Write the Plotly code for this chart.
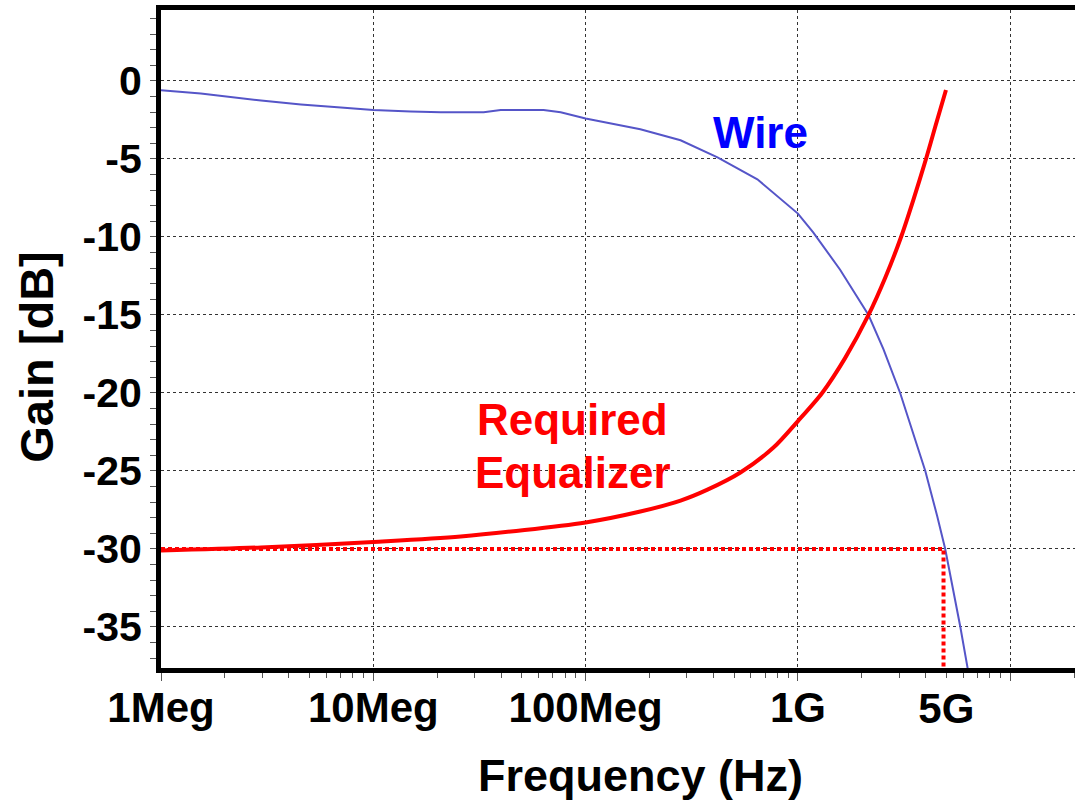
import plotly.graph_objects as go

# ---- data ----
wire_freq = [1.0e6, 1.54e6, 2.96e6, 4.56e6, 7.03e6, 1.0e7, 1.5e7, 2.08e7, 3.31e7, 3.98e7,
             6.34e7, 7.63e7, 1.0e8, 1.81e8, 2.80e8, 4.18e8, 6.44e8, 1.0e9, 1.18e9, 1.58e9,
             2.15e9, 2.53e9, 3.03e9, 3.50e9, 3.98e9, 4.53e9, 4.94e9, 5.82e9, 6.31e9]
wire_gain = [-0.6, -0.8, -1.25, -1.5, -1.7, -1.86, -1.96, -2.0, -2.0, -1.86,
             -1.86, -2.0, -2.4, -3.1, -3.8, -4.9, -6.3, -8.5, -9.7, -12.1,
             -15.0, -17.2, -20.0, -22.6, -25.0, -27.9, -30.0, -35.0, -37.7]

eq_freq = [1.0e6, 2.96e6, 1.0e7, 2.58e7, 1.0e8, 1.81e8, 2.80e8, 3.75e8, 5.36e8, 7.67e8,
           1.0e9, 1.30e9, 1.67e9, 2.15e9, 2.58e9, 3.06e9, 3.50e9, 4.01e9, 4.44e9, 4.98e9]
eq_gain = [-30.1, -29.9, -29.55, -29.2, -28.3, -27.6, -26.9, -26.2, -25.1, -23.5,
           -21.8, -20.0, -17.75, -15.0, -12.6, -10.0, -7.6, -5.0, -2.9, -0.58]

marker_freq = [1.0e6, 4.85e9, 4.85e9]
marker_gain = [-30.0, -30.0, -37.7]

x_tick_vals = [1e6, 1e7, 1e8, 1e9, 1e10]
x_tick_text = ["1Meg", "10Meg", "100Meg", "1G", ""]
x_extra_vals = [5e9]
x_extra_text = ["5G"]
y_tick_vals = [0, -5, -10, -15, -20, -25, -30, -35]
y_tick_text = ["0", "-5", "-10", "-15", "-20", "-25", "-30", "-35"]

FONT = "Liberation Sans, Arial, sans-serif"
GRID = "#333333"

minor_x = [d * 10 ** e for e in range(6, 11) for d in range(2, 10)]

fig = go.Figure()
fig.add_trace(go.Scatter(x=wire_freq, y=wire_gain, mode="lines",
                         line=dict(color="#5555c8", width=2), hoverinfo="skip"))
fig.add_trace(go.Scatter(x=eq_freq, y=eq_gain, mode="lines",
                         line=dict(color="#ff0000", width=4, shape="spline", smoothing=0.8),
                         hoverinfo="skip"))
fig.add_trace(go.Scatter(x=marker_freq, y=marker_gain, mode="lines", xaxis="x2",
                         line=dict(color="#ff0000", width=4, dash="4px,3px"), hoverinfo="skip"))

xr = [6, 10.305]
tickfont = dict(family=FONT, size=42, color="black", weight="bold")
fig.update_layout(
    width=1075, height=807,
    margin=dict(l=161, r=0, t=10, b=139),
    paper_bgcolor="white", plot_bgcolor="white",
    showlegend=False,
    xaxis=dict(type="log", range=xr, tickvals=x_tick_vals, ticktext=x_tick_text,
               showgrid=True, gridcolor=GRID, griddash="3px,3px", gridwidth=1,
               showline=True, linewidth=5, linecolor="black", mirror=True,
               ticks="outside", ticklen=8, tickwidth=1, tickcolor="#555",
               minor=dict(tickvals=minor_x, ticks="outside", ticklen=5, tickwidth=1,
                          tickcolor="#555", showgrid=False),
               tickfont=tickfont, ticklabelstandoff=-9,
               zeroline=False),
    xaxis2=dict(type="log", range=xr, overlaying="x", anchor="y", side="bottom",
                tickvals=x_extra_vals, ticktext=x_extra_text,
                ticks="outside", ticklen=8, tickcolor="rgba(0,0,0,0)",
                showgrid=False, showline=False, zeroline=False,
                tickfont=tickfont, ticklabelstandoff=-4),
    yaxis=dict(range=[-37.63, 4.55], tickvals=y_tick_vals, ticktext=y_tick_text,
               showgrid=True, gridcolor=GRID, griddash="3px,3px", gridwidth=1,
               showline=True, linewidth=5, linecolor="black",
               ticks="outside", ticklen=6, tickwidth=1, tickcolor="#555",
               minor=dict(dtick=1, ticks="outside", ticklen=6, tickwidth=1,
                          tickcolor="#555", showgrid=False),
               tickfont=dict(family=FONT, size=41, color="black", weight="bold"),
               zeroline=False),
    annotations=[
        dict(text="Frequency (Hz)", xref="paper", yref="paper", x=0.525, y=-0.1641,
             xanchor="center", yanchor="middle", showarrow=False,
             font=dict(family=FONT, size=45, color="black", weight="bold")),
        dict(text="Gain [dB]", xref="paper", yref="paper", x=-0.1371, y=0.4726,
             xanchor="center", yanchor="middle", showarrow=False, textangle=-90,
             font=dict(family=FONT, size=47, color="black", weight="bold")),
        dict(text="Wire", x=8.824, y=-3.33, xref="x", yref="y",
             xanchor="center", yanchor="middle", showarrow=False,
             font=dict(family=FONT, size=44, color="#0000ff", weight="bold")),
        dict(text="Required", x=7.939, y=-21.7, xref="x", yref="y",
             xanchor="center", yanchor="middle", showarrow=False,
             font=dict(family=FONT, size=44, color="#ff0000", weight="bold")),
        dict(text="Equalizer", x=7.939, y=-25.1, xref="x", yref="y",
             xanchor="center", yanchor="middle", showarrow=False,
             font=dict(family=FONT, size=44, color="#ff0000", weight="bold")),
    ],
)

fig.write_html("out.html", config={"displayModeBar": False},
               post_script="document.body.style.margin='0';")
